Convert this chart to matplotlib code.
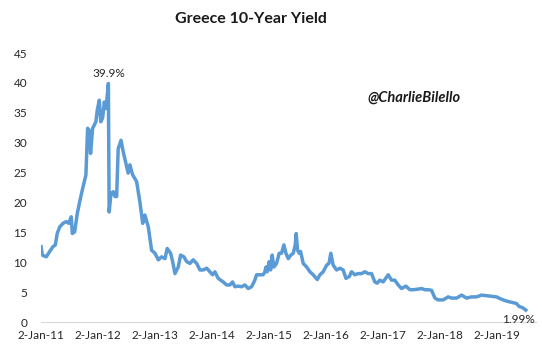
import numpy as np
import pandas as pd
import matplotlib
matplotlib.use("Agg")
import matplotlib.pyplot as plt
import matplotlib.dates as mdates

# Greece 10-year yield (%)
dates = [
    "2011-01-03", "2011-01-10", "2011-02-05", "2011-02-27", "2011-03-20", "2011-04-04",
    "2011-04-16", "2011-05-02", "2011-05-23", "2011-06-13", "2011-06-29", "2011-07-15",
    "2011-07-22", "2011-08-06", "2011-08-23", "2011-09-07", "2011-09-24", "2011-10-09",
    "2011-10-17", "2011-10-28", "2011-11-06", "2011-11-16", "2011-11-29", "2011-12-20",
    "2011-12-29", "2012-01-11", "2012-01-20", "2012-02-01", "2012-02-12", "2012-02-23",
    "2012-03-02", "2012-03-09", "2012-03-14", "2012-03-26", "2012-04-09", "2012-04-20",
    "2012-05-01", "2012-05-11", "2012-05-29", "2012-06-12", "2012-07-04", "2012-07-14",
    "2012-07-25", "2012-08-12", "2012-09-06", "2012-09-27", "2012-10-15", "2012-10-29",
    "2012-11-20", "2012-12-11", "2013-01-02", "2013-01-23", "2013-02-13", "2013-03-07",
    "2013-03-21", "2013-04-12", "2013-04-25", "2013-05-10", "2013-05-31", "2013-06-15",
    "2013-07-06", "2013-07-24", "2013-08-14", "2013-09-04", "2013-09-26", "2013-10-17",
    "2013-11-07", "2013-11-29", "2013-12-20", "2014-01-06", "2014-01-21", "2014-02-11",
    "2014-03-15", "2014-04-06", "2014-04-27", "2014-05-14", "2014-05-29", "2014-06-19",
    "2014-07-11", "2014-08-01", "2014-08-22", "2014-09-13", "2014-10-04", "2014-10-15",
    "2014-11-05", "2014-11-26", "2014-12-07", "2014-12-14", "2014-12-22", "2015-01-04",
    "2015-01-13", "2015-01-23", "2015-02-03", "2015-02-20", "2015-03-09", "2015-03-24",
    "2015-04-08", "2015-04-21", "2015-05-06", "2015-05-23", "2015-06-07", "2015-06-20",
    "2015-06-26", "2015-07-05", "2015-07-15", "2015-07-24", "2015-08-10", "2015-09-01",
    "2015-09-22", "2015-10-13", "2015-11-08", "2015-11-25", "2015-12-16", "2016-01-07",
    "2016-01-22", "2016-02-03", "2016-02-18", "2016-03-11", "2016-04-01", "2016-04-22",
    "2016-05-10", "2016-05-31", "2016-06-15", "2016-07-06", "2016-07-27", "2016-08-18",
    "2016-09-08", "2016-09-29", "2016-10-21", "2016-11-11", "2016-11-26", "2016-12-13",
    "2017-01-03", "2017-02-05", "2017-02-26", "2017-03-19", "2017-04-10", "2017-05-01",
    "2017-05-29", "2017-06-24", "2017-07-15", "2017-08-16", "2017-09-07", "2017-09-28",
    "2017-10-19", "2017-11-10", "2017-12-01", "2017-12-22", "2018-01-23", "2018-02-24",
    "2018-03-18", "2018-04-19", "2018-05-21", "2018-06-22", "2018-07-24", "2018-08-25",
    "2018-09-26", "2018-10-28", "2018-11-29", "2018-12-31", "2019-02-01", "2019-03-05",
    "2019-04-06", "2019-05-08", "2019-05-25", "2019-06-16", "2019-07-07",
]
yields = [
    12.6, 11.2, 10.9, 11.8, 12.6, 12.9,
    14.8, 15.9, 16.5, 16.8, 16.5, 17.6,
    14.8, 15.1, 18.2, 20.1, 22.1, 23.7,
    24.6, 32.4, 32.1, 28.2, 32.4, 33.5,
    35.5, 37.1, 33.5, 34.1, 36.8, 35.7,
    38.0, 39.9, 18.4, 21.5, 21.8, 21.0,
    21.0, 29.0, 30.4, 28.5, 26.0, 24.9,
    26.3, 24.6, 23.5, 20.1, 16.5, 17.9,
    15.9, 12.0, 11.5, 10.4, 10.9, 10.6,
    12.3, 11.5, 10.1, 8.1, 9.2, 11.2,
    10.9, 10.1, 9.8, 10.4, 9.8, 8.7,
    8.7, 9.0, 8.4, 7.9, 8.4, 7.3,
    6.7, 6.2, 6.2, 6.7, 5.9, 6.0,
    5.9, 6.2, 5.6, 5.9, 7.0, 7.9,
    7.9, 7.9, 8.4, 9.2, 8.4, 10.1,
    8.7, 11.2, 9.2, 9.8, 11.5, 11.5,
    12.9, 11.5, 10.6, 11.2, 11.5, 12.9,
    14.8, 12.0, 11.5, 11.8, 9.8, 9.2,
    8.4, 7.9, 7.1, 7.9, 8.4, 9.5,
    9.8, 11.5, 9.5, 8.7, 9.0, 8.7,
    7.3, 7.6, 8.4, 7.9, 8.1, 8.1,
    8.4, 8.1, 8.1, 6.7, 6.5, 7.0,
    6.7, 7.9, 7.0, 7.0, 6.2, 5.6,
    6.0, 5.4, 5.4, 5.5, 5.6, 5.4,
    5.4, 5.3, 4.0, 3.7, 3.7, 4.2,
    4.0, 4.0, 4.5, 4.0, 4.2, 4.2,
    4.5, 4.4, 4.3, 4.2, 3.8, 3.5,
    3.3, 3.1, 2.6, 2.4, 1.99,
]
tick_dates = ["2011-01-02", "2012-01-02", "2013-01-02", "2014-01-02", "2015-01-02",
              "2016-01-02", "2017-01-02", "2018-01-02", "2019-01-02"]
tick_labels = ["2-Jan-11", "2-Jan-12", "2-Jan-13", "2-Jan-14", "2-Jan-15",
               "2-Jan-16", "2-Jan-17", "2-Jan-18", "2-Jan-19"]
y_ticks = [0, 5, 10, 15, 20, 25, 30, 35, 40, 45]

def main():
	plt.rcParams['font.family'] = ['Lato', 'DejaVu Sans']
	x = pd.to_datetime(dates)
	y = np.array(yields)

	fig = plt.figure(figsize=(5.42, 3.48), dpi=100)
	ax = fig.add_axes([0.0756, 0.0747, 0.913, 0.773])
	ax.plot(x, y, color='#5B9BD5', linewidth=2.5, solid_joinstyle='round')

	ax.set_ylim(0, 45)
	ax.set_xlim(pd.Timestamp("2011-01-02"), pd.Timestamp("2019-09-09"))
	ax.set_yticks(y_ticks)
	ax.set_xticks(pd.to_datetime(tick_dates))
	ax.set_xticklabels(tick_labels)
	ax.tick_params(axis='both', length=0, labelsize=8.5, colors='#262626')
	ax.tick_params(axis='y', pad=10)
	ax.tick_params(axis='x', pad=6)
	for s in ['top', 'right', 'left']:
		ax.spines[s].set_visible(False)
	ax.spines['bottom'].set_color('#d9d9d9')

	# labels for the peak and the last value
	i_max = int(np.argmax(y))
	ax.annotate("%.1f%%" % y[i_max], (x[i_max], y[i_max]), xytext=(0, 3),
		textcoords='offset points', ha='center', va='bottom', fontsize=8.5, color='#262626')
	ax.annotate("%.2f%%" % y[-1], (x[-1], y[-1]), xytext=(-5, -3),
		textcoords='offset points', ha='center', va='top', fontsize=8.5, color='#262626')

	fig.text(0.463, 0.945, "Greece 10-Year Yield", ha='center', va='center',
		fontsize=11.5, fontweight='bold', color='#1a1a1a')
	fig.text(0.764, 0.718, "@CharlieBilello", ha='center', va='center',
		fontsize=10.5, style='italic', fontweight='bold', color='#1a1a1a')

	fig.savefig("out.png", dpi=100)

if __name__ == '__main__':
	main()
